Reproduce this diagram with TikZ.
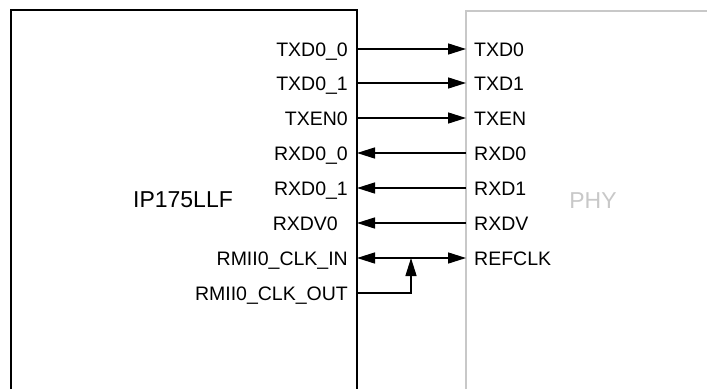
\documentclass[tikz,border=0pt]{standalone}
\usepackage{fontspec}
\setmainfont{Liberation Sans}
\usetikzlibrary{arrows.meta}
\definecolor{phygray}{HTML}{C8C8C8}
\tikzstyle{chip} = [line width=1.5pt]
\tikzstyle{phybox} = [line width=1.5pt, draw=phygray]
\tikzstyle{pin} = [font=\fontsize{19.5}{20}\selectfont, inner sep=0pt]
\tikzstyle{title} = [font=\fontsize{23}{24}\selectfont, inner sep=0pt]
\tikzstyle{sig} = [line width=1.5pt]
\tikzstyle{tx} = [-{Triangle[length=18pt,width=11pt]}]
\tikzstyle{rx} = [{Triangle[length=18pt,width=11pt]}-]
\tikzstyle{both} = [{Triangle[length=18pt,width=11pt]}-{Triangle[length=18pt,width=11pt]}]

\begin{document}
\begin{tikzpicture}[x=1pt,y=-1pt]
    \useasboundingbox (0,0) rectangle (707,389);
    % the two chips
    \draw[chip] (11,389) -- (11,10) -- (357,10) -- (357,389);
    \draw[phybox] (466,389) -- (466,11) -- (707,11);
    \node[title,anchor=base] (ip) at (183,207) {IP175LLF};
    \node[title,anchor=base,text=phygray] (phy) at (593,208) {PHY};
    % transmit side
    \foreach \i/\y/\lab/\rlab in {0/49/TXD0\_0/TXD0,1/83/TXD0\_1/TXD1,2/118/TXEN0/TXEN}{
        \node[pin,anchor=base east] (tl\i) at (348,\y+7) {\lab};
        \node[pin,anchor=base west] (tr\i) at (474,\y+7) {\rlab};
        \coordinate (ta\i) at (357,\y);
        \coordinate (tb\i) at (466,\y);
        \draw[sig,tx] (ta\i) -- (tb\i);
    }
    % receive side
    \foreach \i/\y/\x/\lab/\rlab in {0/153/348/RXD0\_0/RXD0,1/188/348/RXD0\_1/RXD1,2/223/338/RXDV0/RXDV}{
        \node[pin,anchor=base east] (rl\i) at (\x,\y+7) {\lab};
        \node[pin,anchor=base west] (rr\i) at (474,\y+7) {\rlab};
        \coordinate (ra\i) at (357,\y);
        \coordinate (rb\i) at (466,\y);
        \draw[sig,rx] (ra\i) -- (rb\i);
    }
    % reference clock
    \node[pin,anchor=base east] (clkin) at (348,265) {RMII0\_CLK\_IN};
    \node[pin,anchor=base east] (clkout) at (348,300) {RMII0\_CLK\_OUT};
    \node[pin,anchor=base west] (refclk) at (474,265) {REFCLK};
    \coordinate (ca) at (357,258);
    \coordinate (cb) at (466,258);
    \coordinate (co) at (357,293);
    \coordinate (cj) at (411,258);
    \draw[sig,both] (ca) -- (cb);
    \draw[sig,tx] (co) -| (cj);
\end{tikzpicture}
\end{document}
